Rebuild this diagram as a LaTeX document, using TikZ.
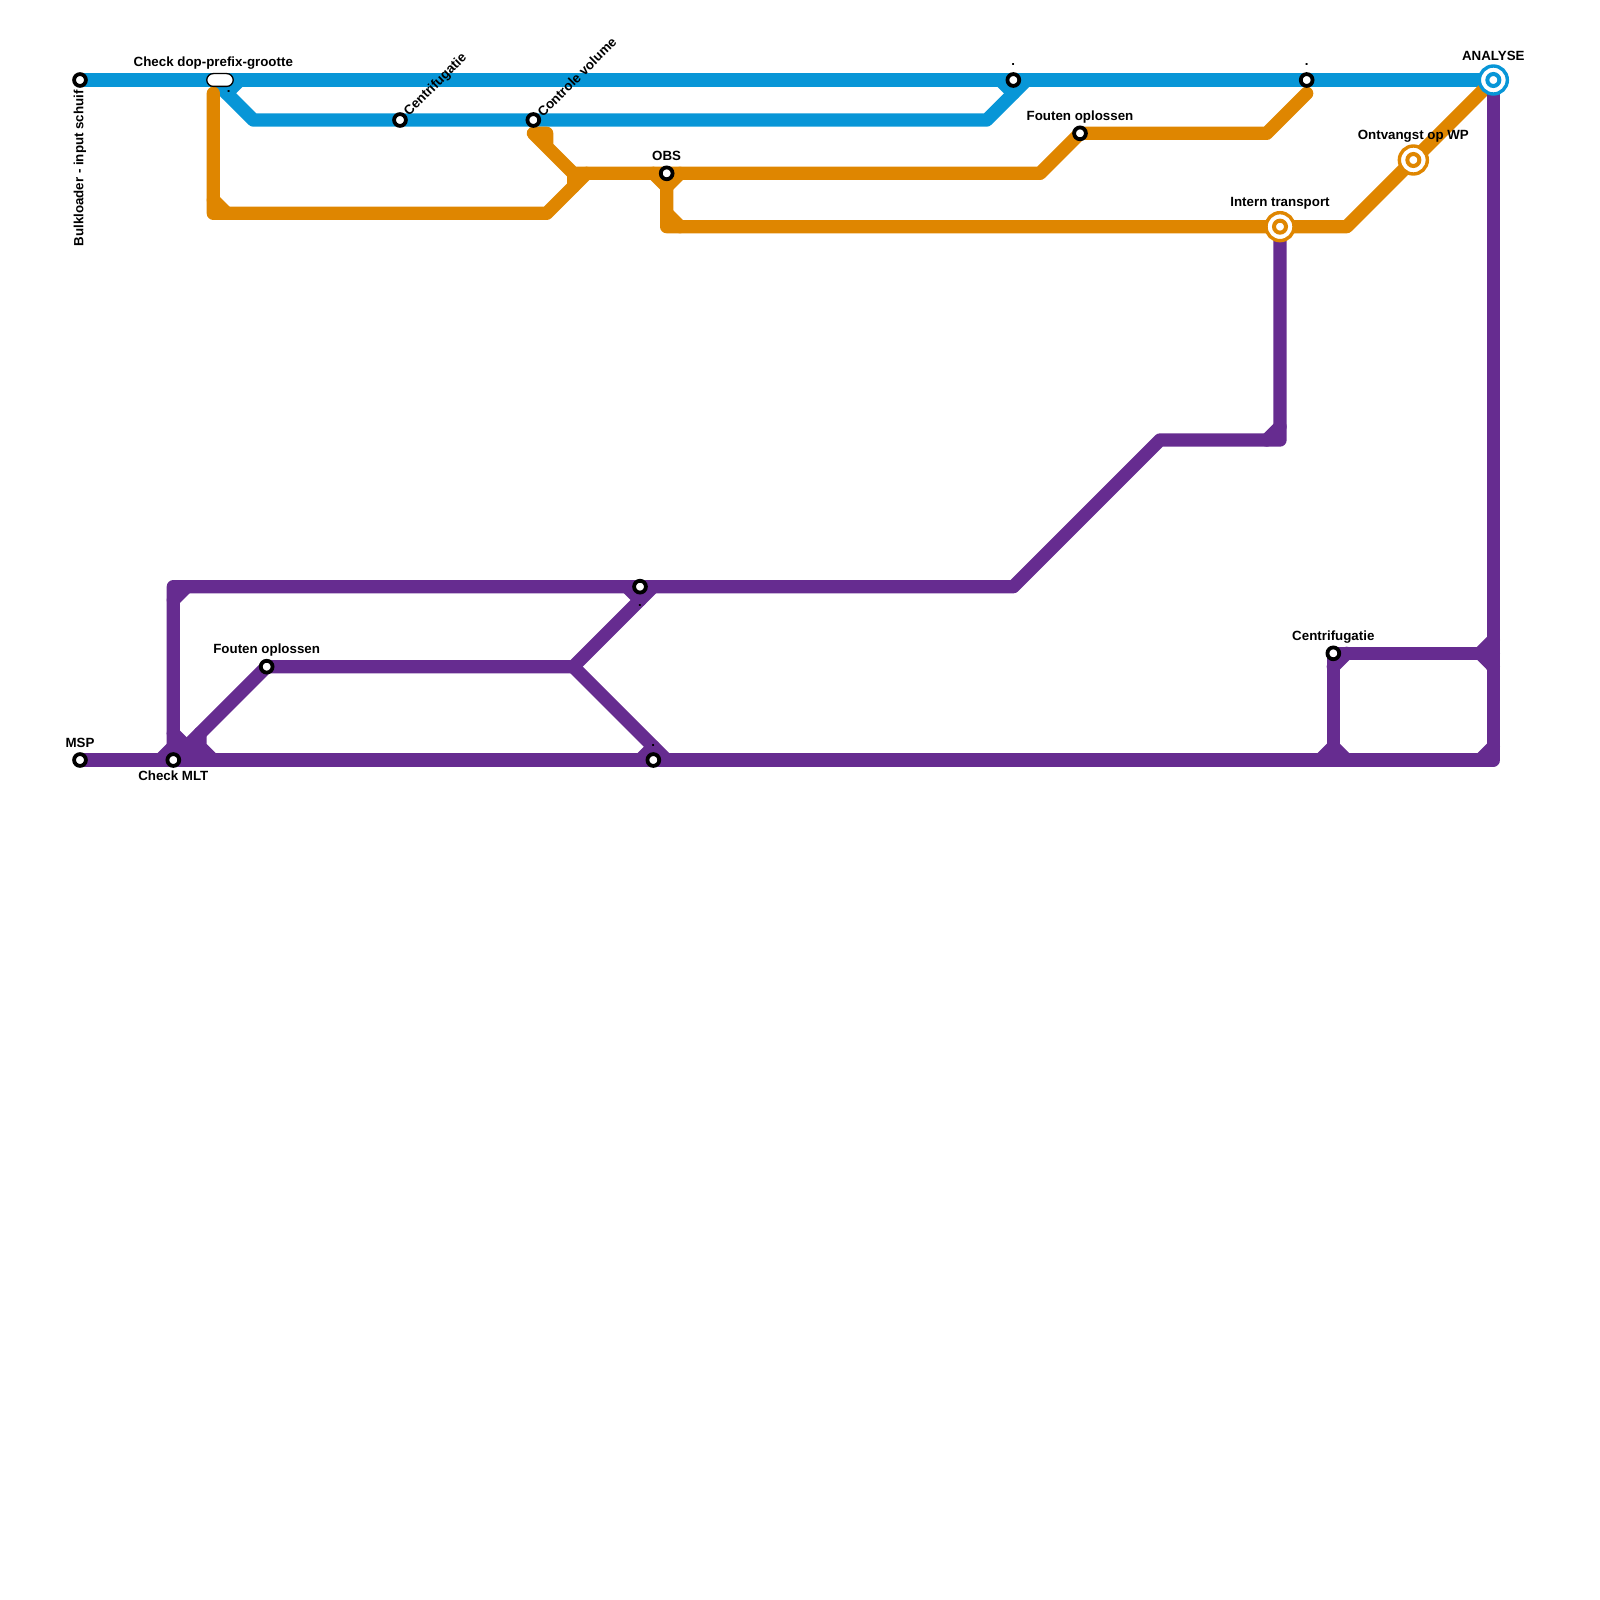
\documentclass[tikz,border=0pt]{standalone}
\usepackage{fontspec}
\setmainfont{Liberation Sans}
\usetikzlibrary{backgrounds}
\definecolor{lineblue}{HTML}{0896D7}
\definecolor{lineorange}{HTML}{DF8600}
\definecolor{linepurple}{HTML}{662C90}
\tikzset{
    metro/.style={line width=13.33pt,line cap=round,line join=round},
    halt/.style={circle,draw=black,fill=white,line width=3.8pt,minimum size=11.8pt,inner sep=0pt},
    pill/.style={rectangle,rounded corners=6.5pt,draw=black,fill=white,line width=1.3pt,minimum width=26.5pt,minimum height=12.8pt,inner sep=0pt},
    hub/.style={circle,draw=#1,fill=white,line width=3.4pt,minimum size=28pt,inner sep=0pt,
        path picture={\draw [#1,line width=4pt] (path picture bounding box.center) circle (6pt);}},
    tag/.style={font=\fontsize{13.33}{14}\selectfont\bfseries,inner sep=0pt,text=black}
}
\begin{document}
\begin{tikzpicture}[x=1pt,y=-1pt]
    \useasboundingbox (0,0) rectangle (1600,1600);

    % stations
    \node [halt] (bulk)     at (80,80) {};
    \node [pill] (dopcheck) at (220,80) {};
    \node [halt] (centri)   at (400,120) {};
    \node [halt] (volume)   at (533.33,120) {};
    \node [halt] (blueone)  at (1013.33,80) {};
    \node [halt] (bluetwo)  at (1306.67,80) {};
    \node [halt] (obs)      at (666.67,173.33) {};
    \node [halt] (foutena)  at (1080,133.33) {};
    \node [hub=lineorange] (intern) at (1280,226.67) {};
    \node [hub=lineorange] (wp)     at (1413.33,160) {};
    \node [hub=lineblue]   (analyse) at (1493.33,80) {};
    \node [halt] (msp)      at (80,760) {};
    \node [halt] (mlt)      at (173.33,760) {};
    \node [halt] (foutenb)  at (266.67,666.67) {};
    \node [halt] (purpone)  at (640,586.67) {};
    \node [halt] (purptwo)  at (653.33,760) {};
    \node [halt] (centrib)  at (1333.33,653.33) {};

    % bends and stubs
    \foreach \n/\x/\y in {bla/213.33/80,blb/240/80,blc/226.67/93.33,bld/253.33/120,ble/986.67/120,blf/1026.67/80,blg/1000/80,blh/1013.33/93.33,
        ora/213.33/93.33,orb/213.33/213.33,orc/546.67/213.33,ord/586.67/173.33,ore/533.33/133.33,orf/573.33/173.33,org/1040/173.33,orh/1266.67/133.33,ori/1306.67/93.33,
        orj/546.67/133.33,ork/546.67/146.67,orl/573.33/186.67,orm/666.67/226.67,orn/1346.67/226.67,oro/213.33/200,orp/226.67/213.33,orq/653.33/173.33,orr/666.67/186.67,ors/680/173.33,ort/666.67/213.33,oru/680/226.67,
        pua/1493.33/760,pub/1280/440,puc/1160/440,pud/1013.33/586.67,pue/173.33/586.67,puf/1266.67/440,pug/1280/426.67,puh/173.33/600,pui/186.67/586.67,
        puj/160/760,puk/173.33/746.67,pul/173.33/733.33,pum/200/760,pun/573.33/666.67,puo/653.33/586.67,pup/666.67/760,puq/200/733.33,pur/200/746.67,pus/213.33/760,
        put/626.67/586.67,puu/640/600,puv/640/760,puw/653.33/746.67,pva/1493.33/653.33,pvb/1480/653.33,pvc/1493.33/640,pvd/1493.33/666.67,pve/1333.33/760,pvf/1346.67/653.33,pvg/1333.33/666.67,
        pvh/1320/760,pvi/1333.33/746.67,pvj/1346.67/760,pvk/1480/760,pvl/1493.33/746.67}{%
        \coordinate (\n) at (\x,\y);}

    % lines
    \begin{scope}[on background layer]
    \begin{scope}[metro]
    \draw [lineblue] (bulk.center) -- (analyse.center);
    \draw [lineblue] (bla) -- (bld) -- (ble) -- (blf);
    \foreach \a/\b in {blb/blc,blg/blh}{%
        \draw [lineblue] (\a) -- (\b);}

    \draw [lineorange] (ora) -- (orb) -- (orc) -- (ord);
    \draw [lineorange] (ork) -- (orj) -- (ore) -- (orf) -- (org) -- (foutena.center) -- (orh) -- (ori);
    \draw [lineorange] (obs.center) -- (orm) -- (orn) -- (wp.center) -- (analyse.center);
    \draw [lineorange] (orq) -- (orr) -- (ors);
    \foreach \a/\b in {orf/orl,oro/orp,ort/oru}{%
        \draw [lineorange] (\a) -- (\b);}

    \draw [linepurple] (msp.center) -- (pua) -- (analyse.center);
    \draw [linepurple] (intern.center) -- (pub) -- (puc) -- (pud) -- (pue) -- (mlt.center);
    \draw [linepurple] (mlt.center) -- (foutenb.center) -- (pun) -- (puo);
    \draw [linepurple] (pun) -- (pup);
    \draw [linepurple] (puq) -- (pur) -- (pus);
    \draw [linepurple] (pve) -- (centrib.center) -- (pva);
    \draw [linepurple] (pvc) -- (pvb) -- (pvd);
    \draw [linepurple] (pvh) -- (pvi) -- (pvj);
    \foreach \a/\b in {puf/pug,puh/pui,puj/puk,pul/pum,put/puu,puv/puw,pvf/pvg,pvk/pvl}{%
        \draw [linepurple] (\a) -- (\b);}
    \end{scope}
    \end{scope}

    % labels
    \node [tag,rotate=90,anchor=east] (bulktag) at (80,90) {Bulkloader - input schuif};
    \node [tag] (doptag)    at (213.33,63) {Check dop-prefix-grootte};
    \node [tag,rotate=45,anchor=west] (centritag) at (406.5,114.5) {Centrifugatie};
    \node [tag,rotate=45,anchor=west] (volumetag) at (539.5,114.5) {Controle volume};
    \node [tag] (obstag)    at (666.67,156) {OBS};
    \node [tag] (foutenatag) at (1080,117) {Fouten oplossen};
    \node [tag] (interntag) at (1280,203) {Intern transport};
    \node [tag] (wptag)     at (1413.33,136) {Ontvangst op WP};
    \node [tag] (analysetag) at (1493.33,56) {ANALYSE};
    \node [tag] (msptag)    at (80,743) {MSP};
    \node [tag] (mlttag)    at (173.33,776) {Check MLT};
    \node [tag] (foutenbtag) at (266.67,650) {Fouten oplossen};
    \node [tag] (centribtag) at (1333.33,637) {Centrifugatie};
    \node [tag,anchor=base] (dotdop)  at (228.8,93) {.};
    \node [tag,anchor=base] (dotone)  at (1013.33,66) {.};
    \node [tag,anchor=base] (dottwo)  at (1306.67,66) {.};
    \node [tag,anchor=base] (dotpa)   at (640,606) {.};
    \node [tag,anchor=base] (dotpb)   at (653.33,746) {.};
\end{tikzpicture}
\end{document}
